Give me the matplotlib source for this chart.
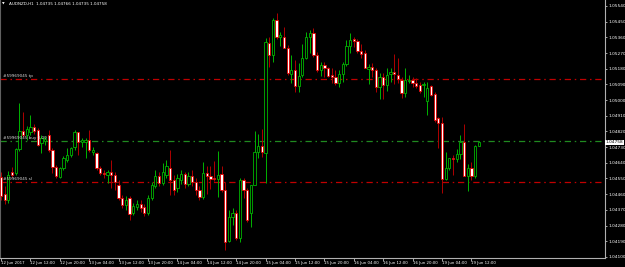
import numpy as np
import matplotlib
matplotlib.use("Agg")
import matplotlib.pyplot as plt
from matplotlib.transforms import blended_transform_factory

# ---- data (prices in points, 1e-5) ----
opens = [104558, 104461, 104426, 104587, 104581, 104719, 104822, 104799, 104817, 104845,
         104828, 104753, 104765, 104799, 104713, 104616, 104558, 104610, 104656, 104685,
         104730, 104817, 104759, 104759, 104770, 104702, 104696, 104610, 104581, 104570,
         104587, 104570, 104513, 104438, 104398, 104438, 104352, 104386, 104403, 104386,
         104352, 104438, 104507, 104564, 104524, 104570, 104610, 104541, 104495, 104541,
         104576, 104518, 104564, 104530, 104484, 104444, 104581, 104564, 104553, 104547,
         104576, 104484, 104191, 104329, 104352, 104208, 104541, 104484, 104352, 104513,
         104702, 104736, 104696, 105328, 105259, 105460, 105362, 105362, 105299, 105150,
         105173, 105081, 105144, 105241, 105362, 105385, 105259, 105173, 105201, 105184,
         105144, 105132, 105098, 105150, 105207, 105310, 105351, 105339, 105282, 105270,
         105178, 105190, 105173, 105075, 105132, 105087, 105150, 105161, 105144, 105115,
         105041, 105110, 105115, 105098, 105087, 105087, 104995, 105081, 105035, 104897,
         104868, 104547, 104610, 104667, 104661, 104690, 104759, 104564, 104610, 104564,
         104735]
highs = [104587, 104507, 104593, 104616, 104725, 104983, 104932, 104851, 104914, 104863,
         104840, 104799, 104794, 104828, 104725, 104627, 104616, 104679, 104725, 104730,
         104828, 104817, 104782, 104782, 104828, 104730, 104702, 104622, 104599, 104599,
         104656, 104587, 104541, 104455, 104449, 104449, 104409, 104426, 104426, 104403,
         104455, 104530, 104599, 104587, 104638, 104656, 104713, 104570, 104576, 104599,
         104587, 104587, 104599, 104553, 104507, 104644, 104622, 104622, 104650, 104708,
         104622, 104530, 104369, 104381, 104369, 104553, 104553, 104495, 104513, 104822,
         104805, 104834, 105356, 105362, 105471, 105499, 105391, 105419, 105316, 105259,
         105230, 105213, 105322, 105391, 105402, 105414, 105276, 105218, 105218, 105190,
         105184, 105173, 105173, 105218, 105345, 105385, 105362, 105351, 105322, 105287,
         105207, 105213, 105184, 105155, 105155, 105184, 105184, 105264, 105241, 105132,
         105184, 105144, 105132, 105127, 105104, 105104, 105104, 105087, 105046, 104903,
         104903, 104702, 104667, 104685, 104719, 104799, 104863, 104633, 104644, 104742,
         104766]
lows = [104426, 104403, 104409, 104558, 104570, 104708, 104788, 104770, 104799, 104805,
        104736, 104696, 104742, 104702, 104581, 104553, 104553, 104599, 104644, 104673,
        104713, 104685, 104730, 104667, 104702, 104685, 104599, 104570, 104553, 104524,
        104495, 104484, 104426, 104381, 104369, 104312, 104340, 104369, 104358, 104335,
        104340, 104426, 104495, 104507, 104513, 104553, 104455, 104455, 104472, 104518,
        104495, 104507, 104507, 104455, 104426, 104432, 104461, 104490, 104536, 104444,
        104472, 104139, 104185, 104283, 104197, 104185, 104438, 104300, 104271, 104513,
        104667, 104673, 104524, 105190, 105218, 105351, 105310, 105299, 105144, 105098,
        105046, 105046, 105132, 105236, 105270, 105247, 105161, 105138, 105132, 105132,
        105098, 105087, 105075, 105104, 105196, 105270, 105305, 105270, 105241, 105184,
        105092, 105132, 105046, 105006, 105006, 105052, 105104, 105092, 105098, 105012,
        105018, 105098, 105075, 105069, 105041, 105018, 104914, 105023, 104874, 104725,
        104467, 104541, 104599, 104570, 104644, 104661, 104564, 104478, 104541, 104553,
        104735]
closes = [104449, 104426, 104570, 104570, 104719, 104822, 104799, 104834, 104845, 104822,
          104742, 104782, 104776, 104713, 104616, 104564, 104610, 104667, 104685, 104725,
          104817, 104759, 104770, 104770, 104713, 104713, 104610, 104581, 104576, 104587,
          104570, 104530, 104438, 104398, 104426, 104346, 104392, 104403, 104381, 104352,
          104438, 104513, 104564, 104524, 104587, 104622, 104541, 104484, 104553, 104576,
          104518, 104564, 104530, 104484, 104444, 104581, 104564, 104547, 104547, 104570,
          104484, 104185, 104329, 104352, 104208, 104541, 104484, 104312, 104513, 104702,
          104736, 104702, 105333, 105259, 105460, 105362, 105374, 105299, 105155, 105173,
          105081, 105138, 105241, 105362, 105385, 105259, 105173, 105201, 105184, 105138,
          105132, 105098, 105150, 105207, 105310, 105345, 105339, 105282, 105264, 105184,
          105190, 105173, 105075, 105132, 105087, 105144, 105161, 105150, 105121, 105041,
          105115, 105115, 105098, 105081, 105052, 105092, 105069, 105029, 104886, 104868,
          104547, 104610, 104667, 104661, 104690, 104759, 104564, 104610, 104564, 104736,
          104758]

title_text = "AUDNZD,H1  1.04735 1.04766 1.04735 1.04758"
order_labels = ["#59969045 tp", "#59969045 buy 0.00", "#59969045 sl"]
order_levels = [1.05121, 1.04765, 1.04530]
order_colors = ["#c00000", "#208a20", "#c00000"]
last_price = 1.04758
price_ticks = [1.04100, 1.04190, 1.04280, 1.04370, 1.04460, 1.04550, 1.04640, 1.04730,
               1.04820, 1.04910, 1.05000, 1.05090, 1.05180, 1.05270, 1.05360, 1.05450, 1.05540]
xtick_labels = ["12 Jun 2017", "12 Jun 12:00", "12 Jun 20:00", "13 Jun 04:00", "13 Jun 12:00",
                "13 Jun 20:00", "14 Jun 04:00", "14 Jun 12:00", "14 Jun 20:00", "15 Jun 04:00",
                "15 Jun 12:00", "15 Jun 20:00", "16 Jun 04:00", "16 Jun 12:00", "16 Jun 20:00",
                "19 Jun 04:00", "19 Jun 12:00"]
bars_per_label = 8

o = np.array(opens) / 1e5
h = np.array(highs) / 1e5
l = np.array(lows) / 1e5
c = np.array(closes) / 1e5
x = np.arange(len(o))

W, H = 625, 267
fig = plt.figure(figsize=(W / 100, H / 100), dpi=100, facecolor="black")
ax = fig.add_axes([0, 9 / H, 605 / W, 258 / H], facecolor="black")

bull = c >= o
bull_col = "#00b400"
bear_edge = "#e00000"
bear_wick = "#b00000"

# wicks
ax.vlines(x[bull], l[bull], h[bull], color=bull_col, lw=0.7, zorder=2)
ax.vlines(x[~bull], l[~bull], h[~bull], color=bear_wick, lw=0.7, zorder=2)
# bodies
bw = 0.62
ax.bar(x[bull], (c - o)[bull], bottom=o[bull], width=bw, color="black",
       edgecolor=bull_col, linewidth=0.6, zorder=3)
ax.bar(x[~bull], (o - c)[~bull], bottom=c[~bull], width=bw, color="white",
       edgecolor=bear_edge, linewidth=0.6, zorder=3)

# order lines
for lvl, col in zip(order_levels, order_colors):
    ax.axhline(lvl, color=col, lw=0.9, linestyle=(0, (5, 3, 1.2, 3)), zorder=1)
lbl_tr = blended_transform_factory(ax.transAxes, ax.transData)
for lbl, lvl in zip(order_labels, order_levels):
    ax.text(3 / 605, lvl + 0.00006, lbl, transform=lbl_tr, fontsize=3, color="#d8d8d8",
            ha="left", va="bottom", zorder=4)

ax.set_xlim(-0.272, 164.35)
ax.set_ylim(1.040935, 1.055744)

# axes style
ax.spines["top"].set_visible(False)
ax.spines["right"].set_color("#b0b0b0")
ax.spines["bottom"].set_color("#b0b0b0")
ax.spines["left"].set_color("#606060")
for s in ["right", "bottom", "left"]:
    ax.spines[s].set_linewidth(0.8)

ax.yaxis.tick_right()
ax.set_yticks(price_ticks)
ax.set_yticklabels([f"{p:.5f}" for p in price_ticks])
ax.tick_params(axis="y", colors="#c0c0c0", labelcolor="white", labelsize=3.1,
               length=1.5, width=0.6, pad=1)
ax.set_xticks(np.arange(len(xtick_labels)) * bars_per_label)
ax.set_xticklabels(xtick_labels)
ax.tick_params(axis="x", colors="#c0c0c0", labelcolor="white", labelsize=2.8,
               length=2, width=0.6, pad=0.5)
for t in ax.get_xticklabels():
    t.set_ha("left")

# current price box
ax.text(1.0015, last_price, f"{last_price:.5f}",
        transform=blended_transform_factory(ax.transAxes, ax.transData),
        fontsize=3.1, color="black", ha="left", va="center",
        bbox=dict(boxstyle="square,pad=0.15", fc="white", ec="white", lw=0),
        zorder=6, clip_on=False)

# title
fig.text(2 / W, 1 - 4 / H, "\u25bc", fontsize=2.5, color="white", ha="left", va="center")
fig.text(9 / W, 1 - 4 / H, title_text, fontsize=3, color="white", ha="left", va="center")

fig.savefig("out.png", dpi=100, facecolor="black")
